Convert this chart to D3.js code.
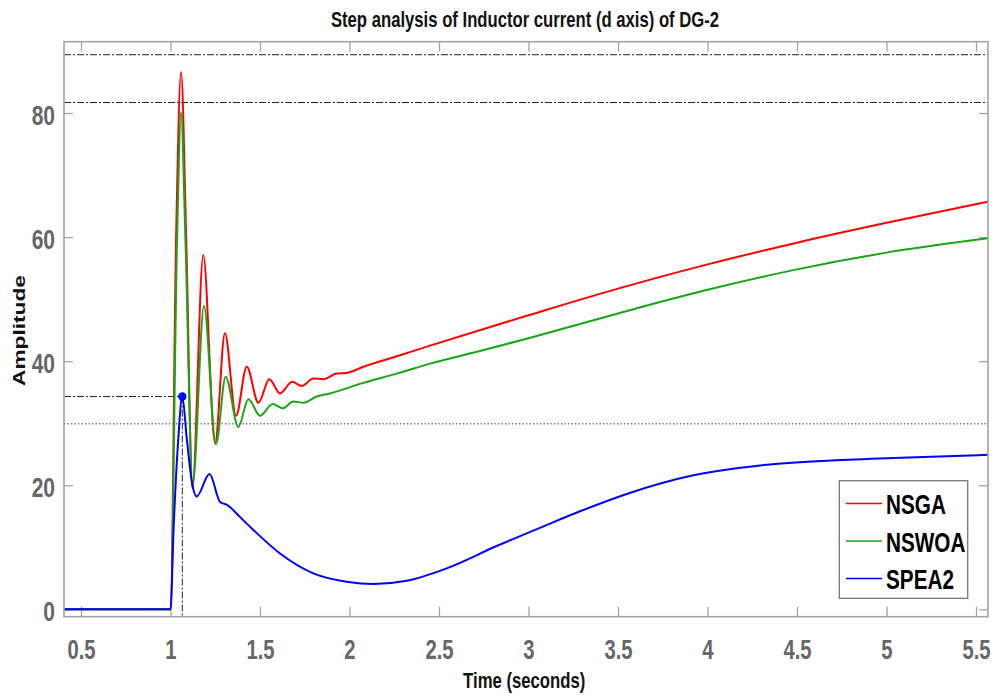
<!DOCTYPE html>
<html><head><meta charset="utf-8">
<script src="https://cdn.jsdelivr.net/npm/d3@7"></script>
<style>
body{margin:0;background:#fff}
svg{display:block}
text{font-family:"Liberation Sans",Arial,Helvetica,sans-serif;font-weight:bold}
</style>
</head><body>
<svg id="chart" width="1000" height="697"></svg>
<script>
// ---------- data ----------
const titleText = "Step analysis of Inductor current (d axis) of DG-2";
const xLabelText = "Time (seconds)";
const yLabelText = "Amplitude";
const xTicks = [0.5, 1, 1.5, 2, 2.5, 3, 3.5, 4, 4.5, 5, 5.5];
const xTickLabels = ["0.5","1","1.5","2","2.5","3","3.5","4","4.5","5","5.5"];
const yTicks = [0, 20, 40, 60, 80];
const yTickLabels = ["0","20","40","60","80"];
const seriesNames = ["NSGA", "NSWOA", "SPEA2"];

const timeNSGA = [0.405, 1.0, 1.031, 1.059, 1.088, 1.122, 1.183, 1.249, 1.304, 1.366, 1.426, 1.491, 1.552, 1.612, 1.680, 1.733, 1.798, 1.854, 1.928, 1.984, 2.077, 2.264, 2.45, 2.75, 3.0, 3.5, 4.0, 4.5, 5.0, 5.567];
const nsga     = [0, 0, 59.5, 86.6, 59.5, 19.5, 57.1, 26.75, 44.5, 31.2, 39.1, 33.3, 37.1, 34.8, 36.7, 36.0, 37.2, 37.1, 38.0, 38.1, 39.1, 40.8, 42.5, 45.2, 47.4, 51.7, 55.6, 59.1, 62.3, 65.7];

const timeNSWOA = [0.405, 1.0, 1.0365, 1.059, 1.0835, 1.124, 1.187, 1.254, 1.308, 1.379, 1.435, 1.5, 1.571, 1.627, 1.686, 1.742, 1.817, 1.891, 2.077, 2.264, 2.45, 2.75, 3.0, 3.5, 4.0, 4.5, 5.0, 5.567];
const nswoa     = [0, 0, 59.5, 80.1, 59.5, 20.2, 48.9, 26.6, 37.5, 29.4, 33.85, 31.2, 33.1, 32.4, 33.5, 33.3, 34.3, 34.8, 36.5, 38.0, 39.6, 41.8, 43.7, 47.7, 51.5, 54.8, 57.5, 59.8];

const timeSPEA2 = [0.405, 1.0, 1.017, 1.043, 1.066, 1.09, 1.118, 1.146, 1.218, 1.277, 1.31, 1.332, 1.37, 1.416, 1.463, 1.612, 1.798, 1.984, 2.133, 2.32, 2.543, 2.822, 3.102, 3.288, 3.549, 3.921, 4.293, 4.666, 5.038, 5.567];
const spea2     = [0, 0, 12.8, 27.3, 34.3, 27.8, 20.8, 18.2, 21.8, 17.3, 16.9, 16.5, 15.4, 14.1, 12.8, 9.0, 5.8, 4.45, 4.08, 4.6, 6.6, 10.2, 13.6, 15.8, 18.6, 21.6, 23.2, 23.95, 24.4, 24.9];

const dashDotLevels = [89.4, 81.7];
const dottedLevel = 29.9;
const peakTime = 1.066;
const peakValue = 34.3;
const xDomain = [0.405, 5.567];
const yDomain = [-1.19, 91.5];

// ---------- layout ----------
const svg = d3.select("#chart");
const L = 64, R = 988, T = 41.7, B = 616.7;
const SX = 0.75;
const x = d3.scaleLinear().domain(xDomain).range([L, R]);
const y = d3.scaleLinear().domain(yDomain).range([B, T]);
const colors = ["#ff0000", "#16a616", "#0000ff"];
const axisGray = "#a3a3a3";

svg.append("rect").attr("width",1000).attr("height",697).attr("fill","#fff");
svg.append("defs").append("clipPath").attr("id","clip")
  .append("rect").attr("x",L).attr("y",T).attr("width",R-L).attr("height",B-T);

// axes via d3
const gBottom = svg.append("g").attr("transform",`translate(0,${B})`)
  .call(d3.axisBottom(x).tickValues(xTicks).tickFormat((d,i)=>xTickLabels[i]).tickSize(-10).tickSizeOuter(0));
const gTop = svg.append("g").attr("transform",`translate(0,${T})`)
  .call(d3.axisTop(x).tickValues(xTicks).tickFormat("").tickSize(-10).tickSizeOuter(0));
const gLeft = svg.append("g").attr("transform",`translate(${L},0)`)
  .call(d3.axisLeft(y).tickValues(yTicks).tickFormat((d,i)=>yTickLabels[i]).tickSize(-9).tickSizeOuter(0));
const gRight = svg.append("g").attr("transform",`translate(${R},0)`)
  .call(d3.axisRight(y).tickValues(yTicks).tickFormat("").tickSize(-9).tickSizeOuter(0));

[gBottom,gTop,gLeft,gRight].forEach(g=>{
  g.select(".domain").remove();
  g.selectAll(".tick line").attr("stroke",axisGray).attr("stroke-width",1.3);
});
gBottom.selectAll(".tick text")
  .attr("y",null).attr("dy",null)
  .attr("transform",`translate(0,42) scale(${SX},1)`)
  .attr("font-size",27).attr("fill","#666").attr("text-anchor","middle");
gLeft.selectAll(".tick text")
  .attr("x",null).attr("dy",null)
  .attr("transform",`translate(-9,11.5) scale(${SX},1)`)
  .attr("font-size",28).attr("fill","#666").attr("text-anchor","end");
[gBottom,gTop,gLeft,gRight].forEach(g=>g.selectAll("text").attr("font-family",'"Liberation Sans",Arial,sans-serif').attr("font-weight","bold"));

// reference lines
const ref = svg.append("g").attr("clip-path","url(#clip)");
dashDotLevels.forEach(v=>{
  ref.append("line").attr("x1",L).attr("x2",R).attr("y1",y(v)).attr("y2",y(v))
    .attr("stroke","#222").attr("stroke-width",1).attr("stroke-dasharray","7,2,2,2");
});
ref.append("line").attr("x1",L).attr("x2",R).attr("y1",y(dottedLevel)).attr("y2",y(dottedLevel))
  .attr("stroke","#222").attr("stroke-width",1).attr("stroke-dasharray","1.3,2.2");
ref.append("line").attr("x1",L).attr("x2",x(peakTime)).attr("y1",y(peakValue)).attr("y2",y(peakValue))
  .attr("stroke","#222").attr("stroke-width",1).attr("stroke-dasharray","7,2,2,2");
ref.append("line").attr("x1",x(peakTime)).attr("x2",x(peakTime)).attr("y1",y(peakValue)).attr("y2",B)
  .attr("stroke","#222").attr("stroke-width",1).attr("stroke-dasharray","7,2,2,2");

// curves
const series = [
  {t: timeNSGA, v: nsga},
  {t: timeNSWOA, v: nswoa},
  {t: timeSPEA2, v: spea2}
];
const line = d3.line().x(d=>x(d[0])).y(d=>y(d[1])).curve(d3.curveMonotoneX);
const gCurves = svg.append("g").attr("clip-path","url(#clip)");
series.forEach((s,i)=>{
  gCurves.append("path").datum(s.t.map((t,j)=>[t,s.v[j]]))
    .attr("d",line).attr("fill","none").attr("stroke",colors[i]).attr("stroke-width",2)
    .attr("stroke-linejoin","round");
});
gCurves.append("circle").attr("cx",x(peakTime)).attr("cy",y(peakValue)).attr("r",4.2).attr("fill","#0000ff");

// box
svg.append("rect").attr("x",L).attr("y",T).attr("width",R-L).attr("height",B-T)
  .attr("fill","none").attr("stroke",axisGray).attr("stroke-width",1.6);

// titles
svg.append("text").text(titleText).attr("font-size",22).attr("text-anchor","middle")
  .attr("transform",`translate(525,27) scale(0.758,1)`).attr("fill","#111");
svg.append("text").text(xLabelText).attr("font-size",22).attr("text-anchor","middle")
  .attr("transform",`translate(524.2,687.5) scale(0.76,1)`).attr("fill","#111");
svg.append("text").text(yLabelText).attr("font-size",22.7).attr("text-anchor","middle")
  .attr("transform",`translate(25,330.5) scale(${SX},1) rotate(-90)`).attr("fill","#111");

// legend
const lg = svg.append("g");
lg.append("rect").attr("x",839.3).attr("y",480.7).attr("width",128.4).attr("height",117.6)
  .attr("fill","#fff").attr("stroke","#777").attr("stroke-width",1.3);
seriesNames.forEach((n,i)=>{
  const cy = 503.5 + i*37.5;
  lg.append("line").attr("x1",846).attr("x2",882).attr("y1",cy).attr("y2",cy)
    .attr("stroke",colors[i]).attr("stroke-width",1.5);
  lg.append("text").text(n).attr("font-size",28).attr("fill","#000")
    .attr("transform",`translate(886,${cy+10.5}) scale(0.74,1)`);
});
</script>
</body></html>
